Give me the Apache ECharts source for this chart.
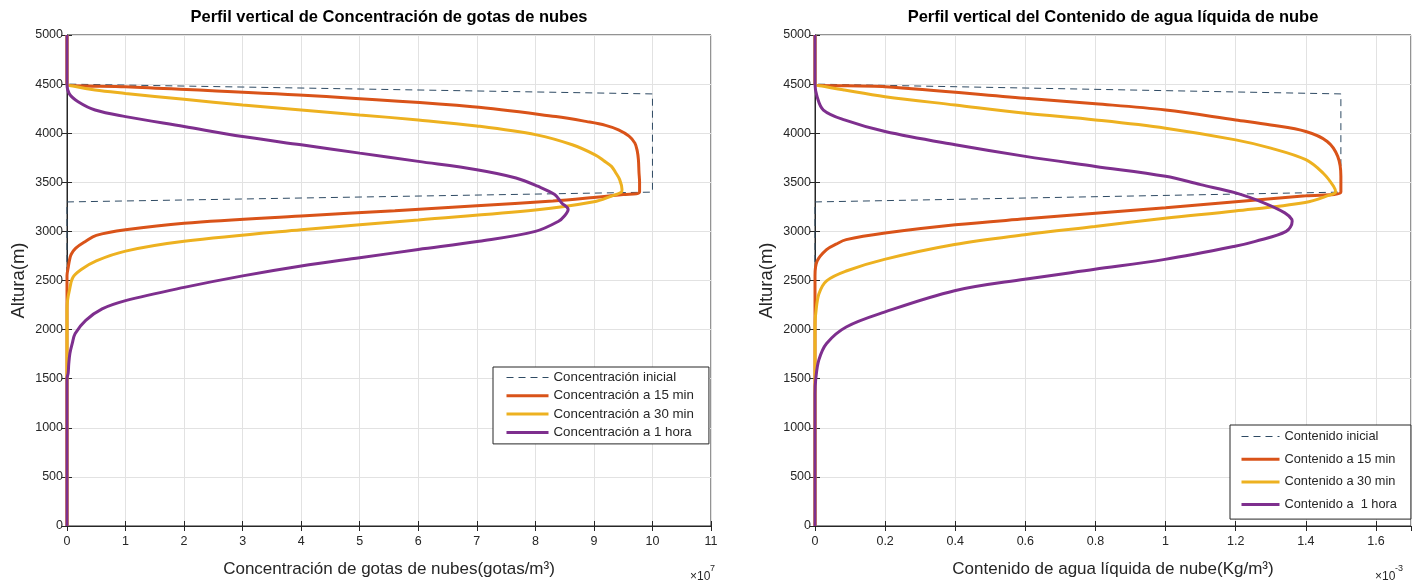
<!DOCTYPE html>
<html>
<head>
<meta charset="utf-8">
<script src="https://cdn.jsdelivr.net/npm/echarts@6/dist/echarts.min.js"></script>
<style>
  html, body { margin: 0; padding: 0; background: #fff; }
  #chart { width: 1422px; height: 584px; }
</style>
</head>
<body>
<div id="chart"></div>
<script>
// Droplet concentration profiles (values in units of 1e7 gotas/m3), altitude in m
const concInitAlt = [0, 3300, 3400, 4400, 4500, 5000];
const concInit    = [0, 0, 10, 10, 0, 0];

const conc15Alt = [0, 2550, 2630, 2700, 2765, 2830, 2900, 2960, 3017, 3084, 3158, 3210, 3262, 3310, 3346, 3375, 3400, 3500, 3600, 3730, 3820, 3899, 3970, 4034, 4080, 4118, 4169, 4270, 4388, 4473, 4500, 5000];
const conc15    = [0, 0, 0.02, 0.04, 0.07, 0.15, 0.32, 0.5, 1.0, 2.0, 4.0, 5.6, 7.0, 8.3, 9.0, 9.5, 9.78, 9.78, 9.77, 9.76, 9.74, 9.70, 9.6, 9.42, 9.2, 8.88, 8.35, 6.93, 3.96, 1.0, 0, 0];

const conc30Alt = [0, 2200, 2300, 2396, 2530, 2614, 2700, 2799, 2899, 3017, 3117, 3218, 3302, 3360, 3400, 3426, 3527, 3600, 3662, 3720, 3780, 3882, 3983, 4074, 4135, 4186, 4236, 4287, 4345, 4405, 4439, 4480, 4500, 5000];
const conc30    = [0, 0, 0.01, 0.04, 0.1, 0.25, 0.5, 1.0, 2.0, 4.0, 6.0, 8.0, 9.0, 9.3, 9.47, 9.48, 9.44, 9.37, 9.3, 9.17, 9.02, 8.63, 8.02, 7.0, 6.0, 5.0, 4.0, 3.0, 2.0, 1.0, 0.48, 0.1, 0, 0];

const conc60Alt = [0, 1500, 1557, 1650, 1758, 1860, 1960, 2094, 2211, 2295, 2430, 2547, 2648, 2732, 2815, 2899, 3000, 3101, 3160, 3223, 3290, 3375, 3460, 3544, 3628, 3713, 3797, 3882, 3966, 4068, 4169, 4236, 4321, 4400, 4500, 5000];
const conc60    = [0, 0, 0.02, 0.03, 0.05, 0.09, 0.14, 0.32, 0.6, 1.0, 2.0, 3.0, 4.0, 5.0, 6.0, 7.04, 8.0, 8.39, 8.5, 8.56, 8.45, 8.33, 8.04, 7.67, 7.0, 6.0, 5.0, 4.0, 3.0, 2.0, 1.0, 0.48, 0.19, 0.04, 0, 0];

// Liquid water content profiles (values in units of 1e-3 Kg/m3), altitude in m
const lwcInitAlt = [0, 3300, 3400, 4400, 4500, 5000];
const lwcInit    = [0, 0, 1.5, 1.5, 0, 0];

const lwc15Alt = [0, 2550, 2698, 2815, 2870, 2916, 2983, 3067, 3128, 3185, 3242, 3302, 3362, 3400, 3561, 3764, 3916, 4017, 4084, 4135, 4236, 4300, 4355, 4473, 4500, 5000];
const lwc15    = [0, 0, 0.006, 0.033, 0.06, 0.089, 0.2, 0.4, 0.6, 0.8, 1.0, 1.2, 1.4, 1.5, 1.5, 1.491, 1.461, 1.4, 1.3, 1.2, 1.0, 0.8, 0.6, 0.2, 0, 0];

const lwc30Alt = [0, 2050, 2161, 2362, 2497, 2597, 2715, 2866, 2966, 3050, 3134, 3208, 3295, 3369, 3400, 3460, 3595, 3730, 3848, 3932, 4051, 4135, 4203, 4287, 4372, 4439, 4480, 4500, 5000];
const lwc30    = [0, 0, 0.002, 0.011, 0.033, 0.089, 0.198, 0.398, 0.598, 0.798, 0.998, 1.198, 1.398, 1.467, 1.485, 1.479, 1.449, 1.4, 1.3, 1.2, 1.0, 0.8, 0.6, 0.4, 0.2, 0.084, 0.02, 0, 0];

const lwc60Alt = [0, 1350, 1490, 1691, 1859, 2027, 2178, 2396, 2513, 2614, 2715, 2849, 2899, 3000, 3101, 3122, 3189, 3291, 3392, 3476, 3561, 3662, 3764, 3882, 4017, 4135, 4236, 4372, 4500, 5000];
const lwc60    = [0, 0, 0.002, 0.011, 0.033, 0.089, 0.198, 0.398, 0.598, 0.798, 0.998, 1.198, 1.256, 1.344, 1.361, 1.36, 1.34, 1.28, 1.2, 1.1, 1.0, 0.8, 0.6, 0.4, 0.2, 0.084, 0.024, 0.006, 0, 0];

const concNames = ['Concentración inicial', 'Concentración a 15 min', 'Concentración a 30 min', 'Concentración a 1 hora'];
const lwcNames  = ['Contenido inicial', 'Contenido a 15 min', 'Contenido a 30 min', 'Contenido a  1 hora'];

const FONT = "'Liberation Sans', Arial, sans-serif";
const INK = '#262626';
const COLORS = ['#2e4a63', '#D95319', '#EDB120', '#7E2F8E'];

function pairs(vals, alts) {
  return vals.map((v, i) => [v, alts[i]]);
}

function profile(name, vals, alts, idx, axis) {
  const initial = idx === 0;
  return {
    type: 'line',
    name: name,
    xAxisIndex: axis,
    yAxisIndex: axis,
    data: pairs(vals, alts),
    showSymbol: false,
    symbol: 'none',
    smooth: initial ? false : 0.35,
    color: COLORS[idx],
    lineStyle: {
      color: COLORS[idx],
      width: initial ? 1 : 3,
      type: initial ? [7, 5] : 'solid'
    },
    z: 2 + idx
  };
}

function plainNumber(v) {
  return String(parseFloat(v.toFixed(4)));
}

function valueAxis(grid, max, interval, opts) {
  return Object.assign({
    type: 'value',
    gridIndex: grid,
    min: 0,
    max: max,
    interval: interval,
    axisLine: { show: true, onZero: false, lineStyle: { color: INK, width: 1 } },
    axisTick: { show: true, inside: true, length: 5, lineStyle: { color: INK } },
    splitLine: { show: true, lineStyle: { color: '#e2e2e2', width: 1 } },
    nameTextStyle: { color: INK, fontSize: 17, fontFamily: FONT }
  }, opts);
}

function mirrorAxis(grid, max, interval, position) {
  return {
    type: 'value',
    gridIndex: grid,
    min: 0,
    max: max,
    interval: interval,
    position: position,
    axisLine: { show: false },
    axisTick: { show: true, inside: true, length: 5, lineStyle: { color: INK } },
    axisLabel: { show: false },
    splitLine: { show: false }
  };
}

const heightMax = 5000, heightStep = 500;

const tickLabel = (margin, extra) => Object.assign({
  color: INK, fontSize: 12.5, fontFamily: FONT, margin: margin, formatter: plainNumber
}, extra || {});

// Legend entries: the initial profile keeps its thin dashed stroke
function legendItems(names) {
  return names.map((n, i) => i === 0
    ? { name: n, lineStyle: { width: 1.2, type: [7, 5] } }
    : { name: n });
}

const legendBase = {
  orient: 'vertical',
  backgroundColor: '#fff',
  borderColor: INK, borderWidth: 1, borderRadius: 0,
  itemHeight: 14,
  itemStyle: { opacity: 0 },
  lineStyle: { width: 3 }
};

const option = {
  backgroundColor: '#fff',
  animation: false,
  textStyle: { fontFamily: FONT },
  grid: [
    { left: 67, right: 711, top: 35, bottom: 58, show: true, borderColor: INK, borderWidth: 1, backgroundColor: '#fff' },
    { left: 815, right: 11, top: 35, bottom: 58, show: true, borderColor: INK, borderWidth: 1, backgroundColor: '#fff' }
  ],
  xAxis: [
    valueAxis(0, 11, 1, {
      name: 'Concentración de gotas de nubes(gotas/m³)',
      nameLocation: 'middle', nameGap: 35,
      axisLabel: tickLabel(9)
    }),
    valueAxis(1, 1.7, 0.2, {
      name: 'Contenido de agua líquida de nube(Kg/m³)',
      nameLocation: 'middle', nameGap: 35,
      axisLabel: tickLabel(9, { showMaxLabel: false })
    }),
    mirrorAxis(0, 11, 1, 'top'),
    mirrorAxis(1, 1.7, 0.2, 'top')
  ],
  yAxis: [
    valueAxis(0, heightMax, heightStep, {
      name: 'Altura(m)', nameLocation: 'middle', nameGap: 39, nameRotate: 90,
      nameTextStyle: { color: INK, fontSize: 18.5, fontFamily: FONT },
      axisLabel: tickLabel(4)
    }),
    valueAxis(1, heightMax, heightStep, {
      name: 'Altura(m)', nameLocation: 'middle', nameGap: 39, nameRotate: 90,
      nameTextStyle: { color: INK, fontSize: 18.5, fontFamily: FONT },
      axisLabel: tickLabel(4)
    }),
    mirrorAxis(0, heightMax, heightStep, 'right'),
    mirrorAxis(1, heightMax, heightStep, 'right')
  ],
  legend: [
    Object.assign({}, legendBase, {
      data: legendItems(concNames),
      left: 493, top: 367,
      padding: [4, 15, 5, 12],
      itemGap: 5.3, itemWidth: 42,
      textStyle: { color: INK, fontSize: 13.3, fontFamily: FONT }
    }),
    Object.assign({}, legendBase, {
      data: legendItems(lwcNames),
      left: 1230, top: 425,
      padding: [5, 14, 8, 10],
      itemGap: 9.7, itemWidth: 38,
      textStyle: { color: INK, fontSize: 12.8, fontFamily: FONT }
    })
  ],
  graphic: [
    { type: 'text', x: 389, y: 17, style: { text: 'Perfil vertical de Concentración de gotas de nubes', align: 'center', verticalAlign: 'middle', fontSize: 16.5, fontWeight: 'bold', fontFamily: FONT, fill: '#000' } },
    { type: 'text', x: 1113, y: 17, style: { text: 'Perfil vertical del Contenido de agua líquida de nube', align: 'center', verticalAlign: 'middle', fontSize: 16.5, fontWeight: 'bold', fontFamily: FONT, fill: '#000' } },
    { type: 'text', x: 690, y: 577, style: { text: '×10', align: 'left', verticalAlign: 'middle', fontSize: 12, fontFamily: FONT, fill: INK } },
    { type: 'text', x: 710, y: 569, style: { text: '7', align: 'left', verticalAlign: 'middle', fontSize: 9, fontFamily: FONT, fill: INK } },
    { type: 'text', x: 1375, y: 577, style: { text: '×10', align: 'left', verticalAlign: 'middle', fontSize: 12, fontFamily: FONT, fill: INK } },
    { type: 'text', x: 1395, y: 569, style: { text: '-3', align: 'left', verticalAlign: 'middle', fontSize: 9, fontFamily: FONT, fill: INK } }
  ],
  series: [
    profile(concNames[0], concInit, concInitAlt, 0, 0),
    profile(concNames[1], conc15, conc15Alt, 1, 0),
    profile(concNames[2], conc30, conc30Alt, 2, 0),
    profile(concNames[3], conc60, conc60Alt, 3, 0),
    profile(lwcNames[0], lwcInit, lwcInitAlt, 0, 1),
    profile(lwcNames[1], lwc15, lwc15Alt, 1, 1),
    profile(lwcNames[2], lwc30, lwc30Alt, 2, 1),
    profile(lwcNames[3], lwc60, lwc60Alt, 3, 1)
  ]
};

const chart = echarts.init(document.getElementById('chart'), null, { renderer: 'canvas' });
chart.setOption(option);
</script>
</body>
</html>
